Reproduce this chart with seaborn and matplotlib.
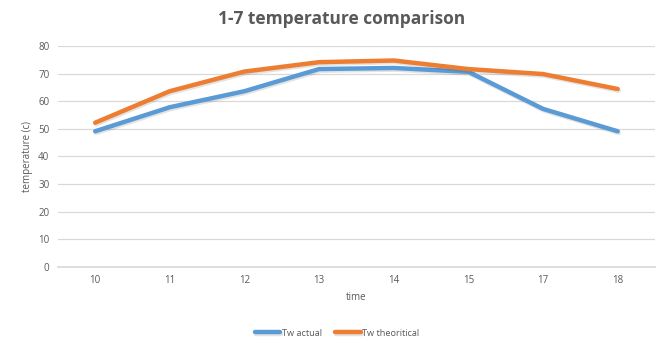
import matplotlib
matplotlib.use("Agg")
import matplotlib.pyplot as plt
import matplotlib.patheffects as pe
import seaborn as sns
import pandas as pd

times = ["10", "11", "12", "13", "14", "15", "17", "18"]
tw_actual = [49.1, 57.8, 63.6, 71.6, 72.0, 70.6, 57.2, 49.1]
tw_theoretical = [52.2, 63.6, 70.7, 74.1, 74.7, 71.6, 69.8, 64.4]
series_names = ["Tw actual", "Tw theoritical"]
colors = ["#5B9BD5", "#ED7D31"]

df = pd.DataFrame({
    "time": times * 2,
    "value": tw_actual + tw_theoretical,
    "series": [series_names[0]] * len(times) + [series_names[1]] * len(times),
})

sns.set_theme(style="white")
plt.rcParams["font.family"] = ["Open Sans", "DejaVu Sans"]
txt = "#595959"

fig = plt.figure(figsize=(6.57, 3.5), dpi=100)
ax = fig.add_axes([0.088, 0.237, 0.909, 0.632])

sns.lineplot(data=df, x="time", y="value", hue="series", palette=colors,
             linewidth=3.2, ax=ax, sort=False,
             path_effects=[pe.SimpleLineShadow(offset=(0.8, -1.2), alpha=0.12), pe.Normal()])

ax.set_xlim(-0.5, len(times) - 0.5)
ax.set_ylim(0, 80)
ax.set_yticks(range(0, 81, 10))
ax.grid(axis="y", color="#D9D9D9", linewidth=0.9)
ax.set_axisbelow(True)
for s in ["top", "right", "left"]:
    ax.spines[s].set_visible(False)
ax.spines["bottom"].set_color("#D9D9D9")
ax.tick_params(axis="both", length=0, labelsize=7, colors=txt, pad=6)
ax.set_xlabel("time", fontsize=7, color=txt, labelpad=4)
ax.set_ylabel("temperature (c)", fontsize=7, color=txt, labelpad=4)

fig.suptitle("1-7 temperature comparison", x=0.52, y=0.97, fontsize=12.5,
             fontweight="bold", color=txt)

handles, labels = ax.get_legend_handles_labels()
ax.get_legend().remove()
fig.legend(handles, labels, loc="center", bbox_to_anchor=(0.513, 0.048),
           ncol=2, frameon=False, fontsize=6.6, labelcolor=txt,
           handlelength=2.8, handletextpad=0.2, columnspacing=1.4)

fig.savefig("out.png", dpi=100, facecolor="white")
